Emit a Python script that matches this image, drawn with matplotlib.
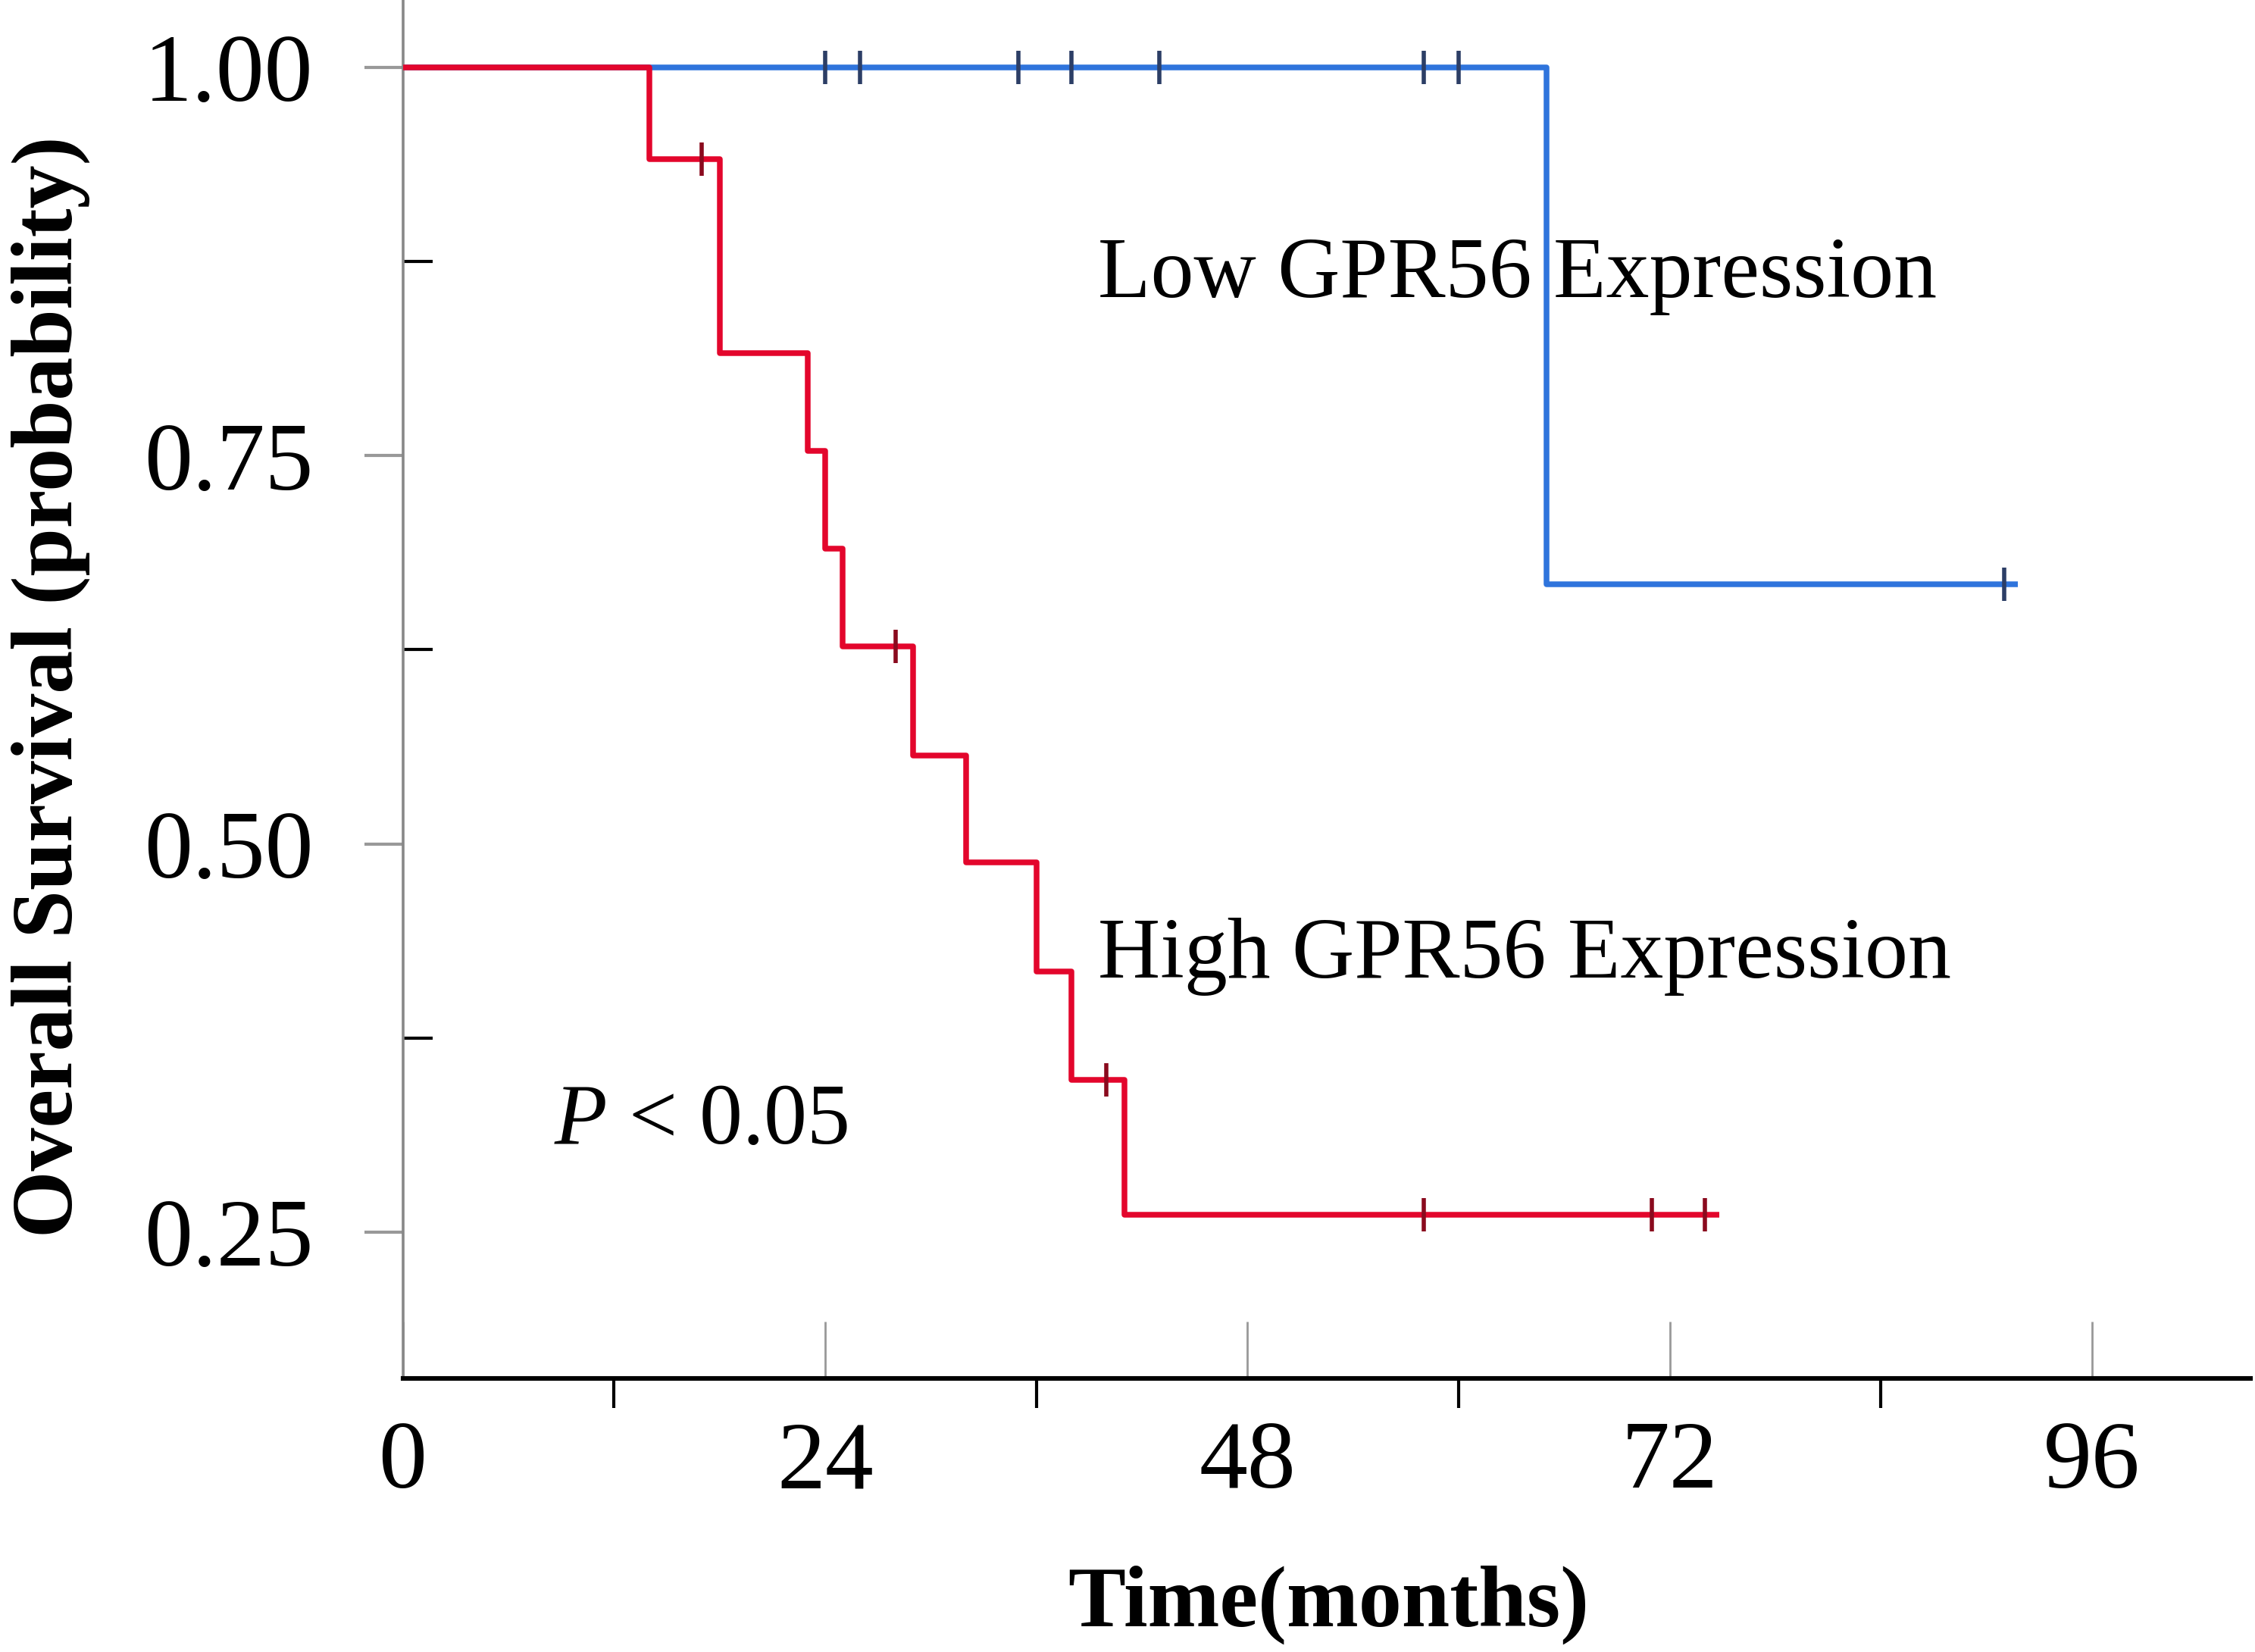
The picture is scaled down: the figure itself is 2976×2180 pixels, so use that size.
import matplotlib
matplotlib.use("Agg")
import matplotlib.pyplot as plt

# ---- data ----
high_step_t = [0, 14, 18, 23, 24, 25, 29, 32, 36, 38, 41]
high_step_s = [1.0, 0.941, 0.816, 0.753, 0.690, 0.627, 0.557, 0.488, 0.418, 0.348, 0.261]
high_end = 74.8
high_censor_t = [17, 28, 40, 58, 71, 74]

low_step_t = [0, 65]
low_step_s = [1.0, 0.667]
low_end = 91.8
low_censor_t = [24, 26, 35, 38, 43, 58, 60, 91]

y_major = [0.25, 0.50, 0.75, 1.00]
y_major_labels = ["0.25", "0.50", "0.75", "1.00"]
y_minor = [0.375, 0.625, 0.875]
x_major = [0, 24, 48, 72, 96]
x_major_labels = ["0", "24", "48", "72", "96"]
x_minor = [12, 36, 60, 84]

plt.rcParams['font.family'] = ['Liberation Serif', 'DejaVu Serif']
plt.rcParams['mathtext.fontset'] = 'custom'
plt.rcParams['mathtext.it'] = 'Liberation Serif:italic'
plt.rcParams['mathtext.rm'] = 'Liberation Serif'

fig = plt.figure(figsize=(14.88, 10.9), dpi=200)
ax = fig.add_axes([0.1786, 0.1655, 0.8194, 0.8345])

RED = '#E3062C'
RED_C = '#8A0A1E'
BLUE = '#2F74DC'
BLUE_C = '#2C3E66'


def surv_at(ts, ss, t):
    v = ss[0]
    for a, b in zip(ts, ss):
        if a <= t:
            v = b
    return v


# low (blue) curve
lx = list(low_step_t) + [low_end]
ly = list(low_step_s) + [low_step_s[-1]]
ax.step(lx, ly, where='post', color=BLUE, lw=2.7, zorder=2, solid_capstyle='butt')
ax.plot(low_censor_t, [surv_at(low_step_t, low_step_s, t) for t in low_censor_t],
        ls='none', marker='|', ms=16, mew=2.0, color=BLUE_C, zorder=3)

# high (red) curve
hx = list(high_step_t) + [high_end]
hy = list(high_step_s) + [high_step_s[-1]]
ax.step(hx, hy, where='post', color=RED, lw=2.7, zorder=4, solid_capstyle='butt')
ax.plot(high_censor_t, [surv_at(high_step_t, high_step_s, t) for t in high_censor_t],
        ls='none', marker='|', ms=16, mew=2.0, color=RED_C, zorder=5)

ax.set_xlim(0, 105)
ax.set_ylim(0.1556, 1.0435)

for s in ['top', 'right']:
    ax.spines[s].set_visible(False)
ax.spines['left'].set_color('#888888')
ax.spines['left'].set_linewidth(1.3)
ax.spines['bottom'].set_color('black')
ax.spines['bottom'].set_linewidth(2.2)

ax.set_yticks(y_major)
ax.set_yticklabels(y_major_labels)
ax.set_yticks(y_minor, minor=True)
ax.set_xticks(x_major)
ax.set_xticklabels(x_major_labels)
ax.set_xticks(x_minor, minor=True)

ax.tick_params(axis='y', which='major', direction='out', length=18.5, width=1.5,
               color='#999999', pad=24, labelsize=46)
ax.tick_params(axis='y', which='minor', direction='in', length=14, width=1.5, color='black')
ax.tick_params(axis='x', which='major', direction='in', length=27, width=1.0,
               color='#999999', pad=20, labelsize=46)
ax.tick_params(axis='x', which='minor', direction='out', length=14, width=1.5, color='black')

ax.set_ylabel('Overall Survival (probability)', fontsize=41, fontweight='bold', va='center')
ax.yaxis.set_label_coords(-0.1907, 0.502)
ax.set_xlabel('Time(months)', fontsize=41, fontweight='bold', va='center')
ax.xaxis.set_label_coords(0.501, -0.164)

ax.text(39.5, 0.852, 'Low GPR56 Expression', fontsize=41, va='baseline', ha='left', zorder=6)
ax.text(39.5, 0.414, 'High GPR56 Expression', fontsize=41, va='baseline', ha='left', zorder=6)
ax.text(8.6, 0.307, r'$P$ < 0.05', fontsize=41, va='baseline', ha='left', zorder=6)

fig.savefig('out.png', dpi=200, facecolor='white')
